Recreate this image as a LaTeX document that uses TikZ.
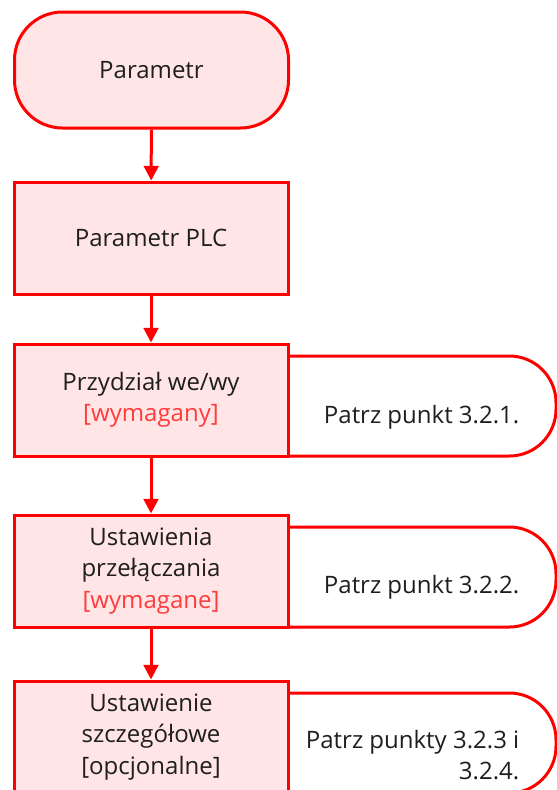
\documentclass[tikz,border=0pt]{standalone}
\usepackage{fontspec}
\setmainfont{Open Sans}
\usepackage{tikz}
\usetikzlibrary{arrows.meta}

\definecolor{flowred}{HTML}{FF0000}
\definecolor{flowpink}{HTML}{FFE5E5}
\definecolor{flowtext}{HTML}{1E1E1E}
\definecolor{notered}{HTML}{FF3B3B}
\newcommand\flowfont{\fontsize{18}{23.5}\selectfont}

\tikzset{
  stepbox/.style={draw=flowred, line width=2.25pt, fill=flowpink, minimum width=205.5pt,
    minimum height=84pt, align=center, text=flowtext, font=\flowfont},
  startbox/.style={stepbox, rounded corners=36pt, minimum height=87pt},
  notebox/.style={draw=flowred, line width=2.25pt, fill=white, rounded corners=35pt,
    minimum width=342pt, minimum height=75pt},
  notetext/.style={anchor=east, align=right, text=flowtext, font=\flowfont},
  flow/.style={draw=flowred, line width=2.25pt, -{Triangle[width=11pt,length=11pt]}},
}

\begin{document}
\begin{tikzpicture}[x=0.75pt, y=-0.75pt]
    \useasboundingbox (0,0) rectangle (557,790);
    \clip (0,0) rectangle (557,790);

    % Callouts (behind the boxes)
    \node[notebox] (n3) at (328,406) {};
    \node[notebox] (n4) at (328,577) {};
    \node[notebox] (n5) at (328,743) {};

    % Steps
    \node[startbox] (start) at (151.5,70) {Parametr};
    \node[stepbox] (plc) at (151,238) {Parametr PLC};
    \node[stepbox] (assign) at (151,400) {Przydział we/wy\\\textcolor{notered}{[wymagany]}};
    \node[stepbox] (switch) at (151,571) {Ustawienia\\przełączania\\\textcolor{notered}{[wymagane]}};
    \node[stepbox] (detail) at (151,737) {Ustawienie\\szczegółowe\\{[opcjonalne]}};

    % Callout texts
    \node[notetext] (t3) at (524,417) {Patrz punkt 3.2.1.};
    \node[notetext] (t4) at (524,587) {Patrz punkt 3.2.2.};
    \node[notetext] (t5) at (524,755) {Patrz punkty 3.2.3 i\\3.2.4.};

    % Arrows
    \draw[flow] (start) -- (plc);
    \draw[flow] (plc) -- (assign);
    \draw[flow] (assign) -- (switch);
    \draw[flow] (switch) -- (detail);
\end{tikzpicture}
\end{document}
